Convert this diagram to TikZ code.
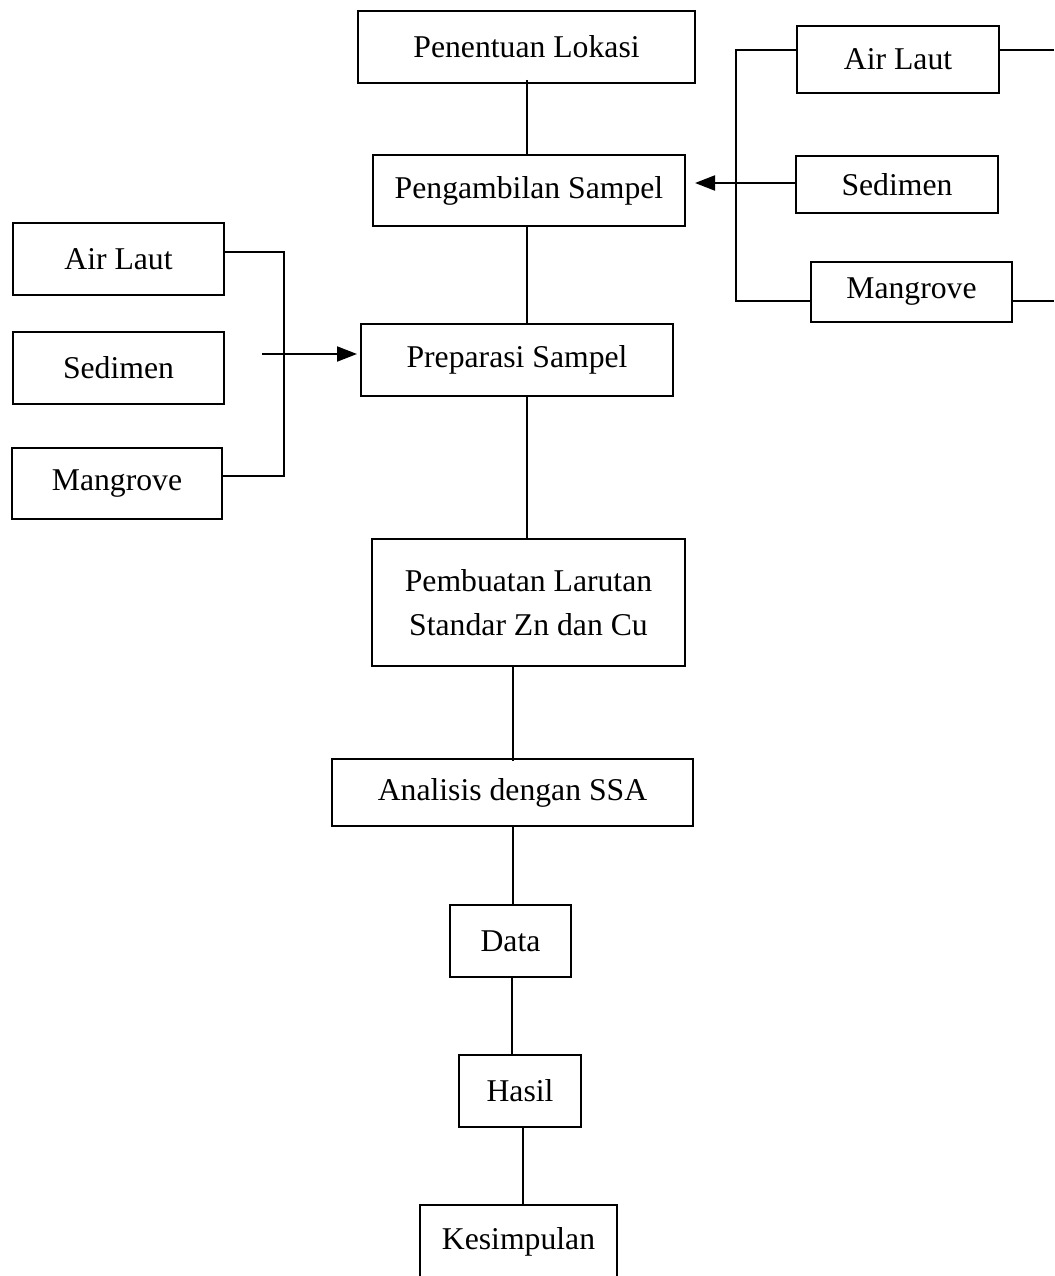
\documentclass[tikz,border=0pt]{standalone}
\usepackage{fontspec}
\setmainfont{Liberation Serif}
\usetikzlibrary{arrows.meta}
\tikzset{
  box/.style={draw, line width=2pt, inner sep=0pt, align=center,
    font=\fontsize{31.7}{44}\selectfont},
  link/.style={line width=2pt},
  arr/.style={line width=2pt, -{Triangle[length=20pt,width=15pt]}}
}
\begin{document}
\begin{tikzpicture}[x=1pt,y=-1pt]
\clip (0,0) rectangle (1054,1276);
\fill[white] (0,0) rectangle (1054,1276);
% main column
\node[box, minimum width=337pt, minimum height=72pt] (pl) at (526.5,47) {Penentuan Lokasi};
\node[box, minimum width=312pt, minimum height=71pt] (ps) at (529,190.5) {Pengambilan Sampel};
\node[box, minimum width=312pt, minimum height=72pt] (prep) at (517,360) {Preparasi Sampel};
\node[box, minimum width=313pt, minimum height=127pt] (pemb) at (528.5,602.5) {Pembuatan Larutan\\Standar Zn dan Cu};
\node[box, minimum width=361pt, minimum height=67pt] (ana) at (512.5,792.5) {Analisis dengan SSA};
\node[box, minimum width=121pt, minimum height=72pt] (data) at (510.5,941) {Data};
\node[box, minimum width=122pt, minimum height=72pt] (hasil) at (520,1091) {Hasil};
\node[box, minimum width=197pt, minimum height=73pt] (kes) at (518.5,1241.5) {Kesimpulan};
% right group
\node[box, minimum width=202pt, minimum height=67pt] (rAL) at (898,59.5) {Air Laut};
\node[box, minimum width=202pt, minimum height=57pt] (rSed) at (897,184.5) {Sedimen};
\node[box, minimum width=201pt, minimum height=60pt] (rMan) at (911.5,292) {Mangrove};
% left group
\node[box, minimum width=211pt, minimum height=72pt] (lAL) at (118.5,259) {Air Laut};
\node[box, minimum width=211pt, minimum height=72pt] (lSed) at (118.5,368) {Sedimen};
\node[box, minimum width=210pt, minimum height=71pt] (lMan) at (117,483.5) {Mangrove};
% coordinates
\coordinate (rtop) at (736,50);
\coordinate (rbot) at (736,301);
\coordinate (redge1) at (1054,50);
\coordinate (redge2) at (1054,301);
\coordinate (ltop) at (284,252);
\coordinate (lbot) at (284,476);
\coordinate (lstart) at (262,354);
% main connectors
\draw[link] ([xshift=0.5pt,yshift=4pt]pl.south) -- ([xshift=0.5pt]pl.south |- ps.north);
\draw[link] ([xshift=-2pt]ps.south) -- ([xshift=-2pt]ps.south |- prep.north);
\draw[link] ([xshift=-1.5pt]prep.south -| pemb.north) -- ([xshift=-1.5pt]pemb.north);
\draw[link] ([xshift=0.5pt]pemb.south -| ana.north) -- ([xshift=0.5pt,yshift=-3pt]ana.north);
\draw[link] ([xshift=0.5pt]ana.south) -- ([xshift=0.5pt]ana.south |- data.north);
\draw[link] ([xshift=1.5pt]data.south) -- ([xshift=1.5pt]data.south |- hasil.north);
\draw[link] ([xshift=3pt]hasil.south) -- ([xshift=3pt]hasil.south |- kes.north);
% right bracket
\draw[link] (rAL.west |- rtop) -- (rtop) -- (rbot) -- (rMan.west |- rbot);
\draw[link] (rAL.east |- rtop) -- (redge1);
\draw[link] (rMan.east |- rbot) -- (redge2);
\draw[arr] (rSed.west |- 0,183) -- ([xshift=9pt]ps.east |- 0,183);
% left bracket
\draw[link] (lAL.east |- ltop) -- (ltop) -- (lbot) -- (lMan.east |- lbot);
\draw[arr] (lstart) -- ([xshift=-3pt]prep.west |- lstart);
\end{tikzpicture}
\end{document}
